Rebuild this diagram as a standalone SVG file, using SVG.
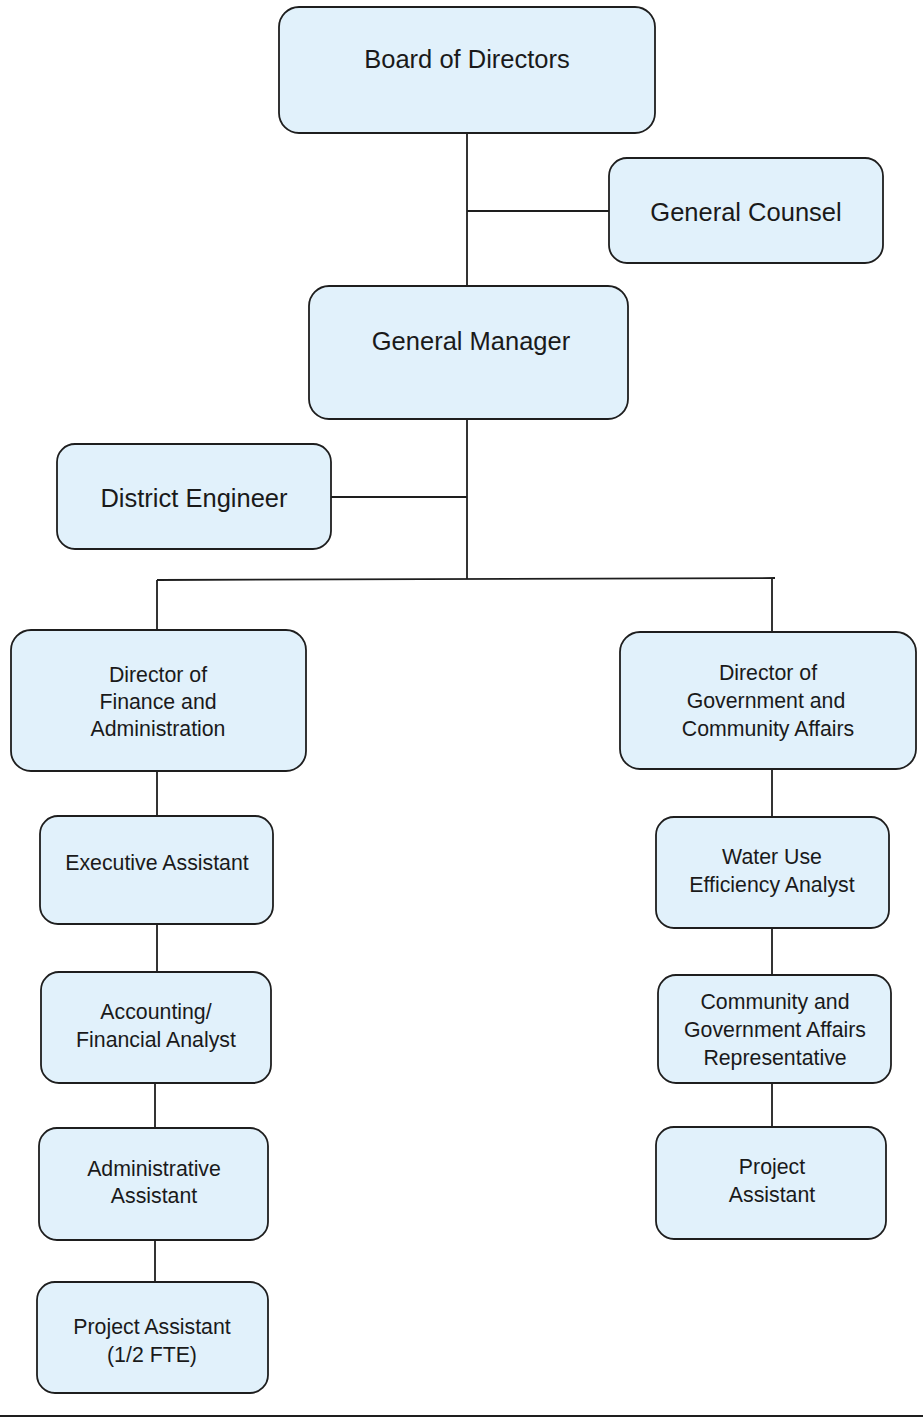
<svg xmlns="http://www.w3.org/2000/svg" width="923" height="1426" viewBox="0 0 923 1426">
<style>
.box{fill:#e1f1fb;stroke:#1e1e1e;stroke-width:1.8}
.t{font-family:"Liberation Sans",Arial,sans-serif;fill:#1a1a1a;text-anchor:middle}
.big{font-size:25.5px}
.sm{font-size:21.3px}
.c line{stroke:#1e1e1e;stroke-width:1.8}
</style>
<rect width="923" height="1426" fill="#ffffff"/>
<g class="c" id="connectors">
<line x1="467" y1="133" x2="467" y2="286"/>
<line x1="467" y1="211" x2="609" y2="211"/>
<line x1="467" y1="419" x2="467" y2="579"/>
<line x1="331" y1="497" x2="467" y2="497"/>
<line x1="157" y1="580" x2="775" y2="578"/>
<line x1="157" y1="580" x2="157" y2="630"/>
<line x1="772" y1="578" x2="772" y2="632"/>
<line x1="157" y1="771" x2="157" y2="816"/>
<line x1="157" y1="924" x2="157" y2="972"/>
<line x1="155" y1="1083" x2="155" y2="1128"/>
<line x1="155" y1="1240" x2="155" y2="1282"/>
<line x1="772" y1="769" x2="772" y2="817"/>
<line x1="772" y1="928" x2="772" y2="975"/>
<line x1="772" y1="1083" x2="772" y2="1127"/>
<line x1="0" y1="1416" x2="923" y2="1416"/>
</g>
<g id="board"><rect class="box" x="279" y="7" width="376" height="126" rx="20"/><text class="t big" x="467" y="68">Board of Directors</text></g>
<g id="counsel"><rect class="box" x="609" y="158" width="274" height="105" rx="18"/><text class="t big" x="746" y="221">General Counsel</text></g>
<g id="gm"><rect class="box" x="309" y="286" width="319" height="133" rx="20"/><text class="t big" x="471" y="350">General Manager</text></g>
<g id="engineer"><rect class="box" x="57" y="444" width="274" height="105" rx="18"/><text class="t big" x="194" y="507">District Engineer</text></g>
<g id="dir-finance"><rect class="box" x="11" y="630" width="295" height="141" rx="20"/><text class="t sm" x="158" y="682">Director of</text><text class="t sm" x="158" y="709">Finance and</text><text class="t sm" x="158" y="736">Administration</text></g>
<g id="dir-gov"><rect class="box" x="620" y="632" width="296" height="137" rx="20"/><text class="t sm" x="768" y="680">Director of</text><text class="t sm" x="766" y="708">Government and</text><text class="t sm" x="768" y="736">Community Affairs</text></g>
<g id="exec-assistant"><rect class="box" x="40" y="816" width="233" height="108" rx="18"/><text class="t sm" x="157" y="870">Executive Assistant</text></g>
<g id="accounting"><rect class="box" x="41" y="972" width="230" height="111" rx="18"/><text class="t sm" x="156" y="1019">Accounting/</text><text class="t sm" x="156" y="1047">Financial Analyst</text></g>
<g id="admin-assistant"><rect class="box" x="39" y="1128" width="229" height="112" rx="18"/><text class="t sm" x="154" y="1176">Administrative</text><text class="t sm" x="154" y="1203">Assistant</text></g>
<g id="project-assistant-half"><rect class="box" x="37" y="1282" width="231" height="111" rx="18"/><text class="t sm" x="152" y="1334">Project Assistant</text><text class="t sm" x="152" y="1362">(1/2 FTE)</text></g>
<g id="water-use"><rect class="box" x="656" y="817" width="233" height="111" rx="18"/><text class="t sm" x="772" y="864">Water Use</text><text class="t sm" x="772" y="892">Efficiency Analyst</text></g>
<g id="community-rep"><rect class="box" x="658" y="975" width="233" height="108" rx="18"/><text class="t sm" x="775" y="1009">Community and</text><text class="t sm" x="775" y="1037">Government Affairs</text><text class="t sm" x="775" y="1065">Representative</text></g>
<g id="project-assistant"><rect class="box" x="656" y="1127" width="230" height="112" rx="18"/><text class="t sm" x="772" y="1174">Project</text><text class="t sm" x="772" y="1202">Assistant</text></g>
</svg>
